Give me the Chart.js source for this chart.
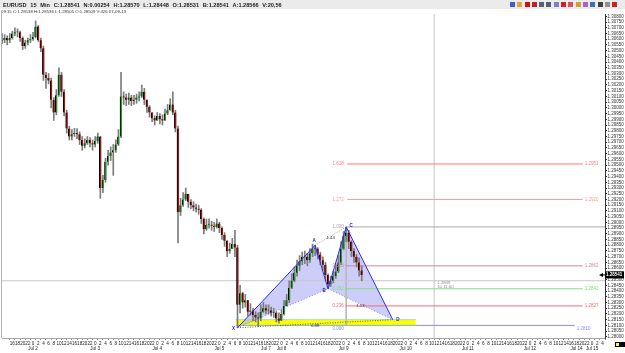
<!DOCTYPE html>
<html>
<head>
<meta charset="utf-8">
<title>EURUSD 15 Min</title>
<script src="https://cdn.jsdelivr.net/npm/chart.js@4.4.1/dist/chart.umd.min.js"></script>
<style>
  html, body { margin: 0; padding: 0; background: #fff; }
  #wrap { position: relative; width: 625px; height: 353px; overflow: hidden; font-family: 'Liberation Sans', Arial, sans-serif; }
  #chart { position: absolute; left: 0; top: 0; }
  #bar { position: absolute; left: 0; top: 0; width: 625px; height: 9px; background: #ebebeb; }
  #title { position: absolute; left: 3px; top: 1.5px; font-size: 5.6px; line-height: 6px; font-weight: bold; color: #222; white-space: nowrap; word-spacing: 2.2px; }
  #info { position: absolute; left: 1px; top: 9.2px; font-size: 4.3px; line-height: 5px; color: #333; white-space: nowrap; }
  #tools { position: absolute; left: 510px; top: 2px; height: 5px; display: flex; gap: 2.3px; }
  #tools span { display: block; width: 5px; height: 5px; }
  #frame { position: absolute; left: 1px; top: 10px; width: 1px; height: 328px; background: #b4b4b4; }
  .sq { position: absolute; top: 342px; width: 3px; height: 3px; border: 0.5px solid #000; }
</style>
</head>
<body>
<div id="wrap">
  <canvas id="chart" width="625" height="353"></canvas>
  <div id="bar"></div>
  <div id="title">EURUSD 15 Min C:1.28541 N:0.00254 H:1.28570 L:1.28448 O:1.28531 B:1.28541 A:1.28566 V:20,56</div>
  <div id="info">09:15 C:1.28538 H:1.28536 L:1.28505 O:1.28509 V:426 07-09-13</div>
  <div id="tools"></div>
  <div id="frame"></div>
  <div class="sq" style="left:615px;background:#ffff00"></div>
  <div class="sq" style="left:619.5px;background:#000"></div>
</div>
<script>
// --- Chart data ---
// Time axis is in trading hours, 0 = Jul 2 00:00 (weekend removed)
const firstHour = -12;
const firstOpen = 1.3058;

const closes = [
  1.3059, 1.3061, 1.3059, 1.3061, 1.3065, 1.3066, 1.3066, 1.3061, 1.3054, 1.3057,
  1.3059, 1.3060, 1.3062, 1.3071, 1.3059, 1.3052, 1.3029, 1.3026, 1.3024, 1.3007,
  1.2996, 1.3011, 1.3029, 1.3014, 1.2996, 1.2982, 1.2975, 1.2977, 1.2978, 1.2977,
  1.2972, 1.2967, 1.2969, 1.2972, 1.2969, 1.2968, 1.2971, 1.2975, 1.2930, 1.2937,
  1.2953, 1.2958, 1.2961, 1.2963, 1.2968, 1.2975, 1.3010, 1.3009, 1.3007, 1.3009,
  1.3006, 1.3007, 1.3009, 1.3010, 1.3014, 1.3007, 1.3001, 1.2996, 1.2991, 1.2989,
  1.2993, 1.2990, 1.2989, 1.2995, 1.2998, 1.3003, 1.2996, 1.2982, 1.2909, 1.2915,
  1.2920, 1.2925, 1.2918, 1.2915, 1.2913, 1.2912, 1.2911, 1.2903, 1.2894, 1.2898,
  1.2898, 1.2897, 1.2896, 1.2899, 1.2895, 1.2889, 1.2884, 1.2875, 1.2877, 1.2881,
  1.2878, 1.2828, 1.2838, 1.2830, 1.2832, 1.2822, 1.2823, 1.2819, 1.2817, 1.2816,
  1.2822, 1.2825, 1.2823, 1.2823, 1.2821, 1.2821, 1.2816, 1.2814, 1.2820, 1.2827,
  1.2832, 1.2843, 1.2849, 1.2856, 1.2862, 1.2866, 1.2870, 1.2870, 1.2867, 1.2873,
  1.2877, 1.2877, 1.2872, 1.2867, 1.2863, 1.2854, 1.2846, 1.2849, 1.2853, 1.2857,
  1.2865, 1.2877, 1.2888, 1.2891, 1.2883, 1.2875, 1.2870, 1.2865, 1.2858, 1.2854
];
const highs = [
  1.3065, 1.3064, 1.3063, 1.3065, 1.3067, 1.3070, 1.3069, 1.3067, 1.3062, 1.3059,
  1.3061, 1.3064, 1.3066, 1.3076, 1.3072, 1.3061, 1.3054, 1.3031, 1.3030, 1.3026,
  1.3009, 1.3016, 1.3035, 1.3031, 1.3016, 1.2998, 1.2984, 1.2981, 1.2982, 1.2982,
  1.2979, 1.2975, 1.2973, 1.2975, 1.2974, 1.2972, 1.2975, 1.2978, 1.2975, 1.2941,
  1.2956, 1.2963, 1.2966, 1.2968, 1.2972, 1.2981, 1.3031, 1.3014, 1.3012, 1.3013,
  1.3011, 1.3011, 1.3012, 1.3014, 1.3020, 1.3017, 1.3007, 1.3002, 1.2996, 1.2993,
  1.2996, 1.2995, 1.2994, 1.2999, 1.3003, 1.3008, 1.3014, 1.2998, 1.2984, 1.2921,
  1.2926, 1.2930, 1.2924, 1.2920, 1.2918, 1.2916, 1.2915, 1.2912, 1.2904, 1.2903,
  1.2903, 1.2901, 1.2900, 1.2903, 1.2900, 1.2896, 1.2891, 1.2884, 1.2882, 1.2886,
  1.2893, 1.2880, 1.2845, 1.2839, 1.2837, 1.2832, 1.2829, 1.2825, 1.2822, 1.2821,
  1.2828, 1.2830, 1.2828, 1.2828, 1.2826, 1.2825, 1.2822, 1.2821, 1.2824, 1.2832,
  1.2837, 1.2849, 1.2855, 1.2861, 1.2867, 1.2871, 1.2874, 1.2875, 1.2873, 1.2877,
  1.2881, 1.2880, 1.2878, 1.2874, 1.2870, 1.2865, 1.2855, 1.2853, 1.2857, 1.2863,
  1.2871, 1.2883, 1.2892, 1.2896, 1.2893, 1.2884, 1.2877, 1.2872, 1.2869, 1.2862
];
const lows = [
  1.3056, 1.3057, 1.3055, 1.3057, 1.3060, 1.3063, 1.3062, 1.3058, 1.3051, 1.3052,
  1.3055, 1.3057, 1.3059, 1.3061, 1.3058, 1.3049, 1.3024, 1.3017, 1.3021, 1.3000,
  1.2989, 1.2994, 1.3010, 1.3010, 1.2993, 1.2978, 1.2972, 1.2972, 1.2975, 1.2973,
  1.2968, 1.2963, 1.2965, 1.2968, 1.2966, 1.2963, 1.2966, 1.2969, 1.2921, 1.2926,
  1.2935, 1.2950, 1.2954, 1.2941, 1.2961, 1.2967, 1.2974, 1.3003, 1.3002, 1.3003,
  1.3002, 1.3003, 1.3004, 1.3006, 1.3009, 1.3003, 1.2996, 1.2992, 1.2988, 1.2985,
  1.2989, 1.2986, 1.2985, 1.2989, 1.2994, 1.2998, 1.2994, 1.2979, 1.2882, 1.2906,
  1.2914, 1.2919, 1.2913, 1.2912, 1.2910, 1.2909, 1.2907, 1.2899, 1.2890, 1.2893,
  1.2895, 1.2893, 1.2892, 1.2895, 1.2891, 1.2885, 1.2879, 1.2870, 1.2873, 1.2877,
  1.2870, 1.2808, 1.2821, 1.2825, 1.2826, 1.2818, 1.2819, 1.2814, 1.2813, 1.2809,
  1.2814, 1.2821, 1.2820, 1.2820, 1.2818, 1.2817, 1.2813, 1.2812, 1.2815, 1.2819,
  1.2827, 1.2830, 1.2842, 1.2848, 1.2853, 1.2858, 1.2863, 1.2864, 1.2862, 1.2865,
  1.2870, 1.2871, 1.2868, 1.2863, 1.2858, 1.2849, 1.2842, 1.2844, 1.2847, 1.2851,
  1.2856, 1.2863, 1.2876, 1.2883, 1.2877, 1.2870, 1.2865, 1.2861, 1.2853, 1.2849
];

// Time axis labels
const dayTicks = [0, 24, 48, 72, 90, 96, 120, 144, 168, 192, 210, 216];
const dayNames = ['Jul 2', 'Jul 3', 'Jul 4', 'Jul 5', 'Jul 7', 'Jul 8', 'Jul 9', 'Jul 10', 'Jul 11', 'Jul 12', 'Jul 14', 'Jul 15'];
const hourTickFirst = -8;
const hourTickLast = 220;

// Price axis
const priceMin = 1.2799;
const priceMax = 1.3082;
const priceTickFirst = 1.2800;
const priceTickLast = 1.3080;
const priceTickStep = 0.0005;

// Harmonic pattern X A B C D
const patternNames = ['X', 'A', 'B', 'C', 'D'];
const patternHours = [79, 109, 114, 121, 139];
const patternPrices = [1.2808, 1.2880, 1.2842, 1.2896, 1.2815];
const ratioNames = ['1.44', '1.13', '0.88'];

// Fibonacci levels
const fibNames = ['1.618', '1.272', '1.000', '0.618', '0.382', '0.236', '0.000'];
const fibPrices = [1.2951, 1.2920, 1.2896, 1.2862, 1.2842, 1.2827, 1.2810];

// Yellow zone, crosshair, last price
const zoneHours = [78.3, 147.9];
const zonePrices = [1.2810, 1.2815];
const crossHour = 155;
const crossPrice = 1.2849;
const crossTimeLabel = '10 11:00';
const lastPrice = 1.28541;

// --- Styles ---
const UP_COLOR = '#2c9a2c';
const DOWN_COLOR = '#9c1616';
const WICK_COLOR = '#7c7c7c';
const PATTERN_BLUE = '#2b2bef';
const FONT = '"Liberation Sans", Arial, sans-serif';
const LEFT_LABEL_HOUR = 120.4;

// per-level line colour and extent (hours)
const fibStyle = [
    { color: '#ff7878', from: 121.4, to: 212.4, right: true, drop: 0 },
    { color: '#ff9a9a', from: 121.4, to: 212.4, right: true, drop: 0 },
    { color: '#a8a8a8', from: 121.0, to: 221.0, right: false, drop: 0 },
    { color: '#c98ba0', from: 120.7, to: 212.4, right: true, drop: 0 },
    { color: '#7fe07f', from: 120.7, to: 212.4, right: true, drop: 0 },
    { color: '#ff6a6a', from: 120.7, to: 212.4, right: true, drop: 0 },
    { color: '#8a8aff', from: 79.0, to: 209.3, right: true, drop: 3 },
];
const pointLabelOffsets = [[-4, 1], [-1, -4], [-4, 2], [5, -1], [5, 0]];

const toolColors = ['#3a5fcd', '#e8a040', '#d01010', '#c02020', '#506080', '#506070', '#8080c0',
                    '#d02020', '#e05050', '#d0a030', '#b060c0', '#4070b0', '#404040', '#909090', '#d02020'];

/**
 * Small helper for a straight line dataset between points.
 */
const lineSet = (points, color, extra = {}) => ({
    type: 'line',
    data: points,
    borderColor: color,
    borderWidth: 1,
    pointRadius: 0,
    tension: 0,
    fill: false,
    order: 3,
    ...extra,
});

/**
 * Draws the text annotations: fib labels, pattern letters, ratios, crosshair and last price.
 */
const overlayPlugin = {
    id: 'overlay',
    afterDatasetsDraw(chart) {
        const { ctx, chartArea, scales: { x, y } } = chart;
        ctx.save();
        ctx.textBaseline = 'middle';
        ctx.font = `4.5px ${FONT}`;

        // Fibonacci level labels
        fibPrices.forEach((p, i) => {
            const s = fibStyle[i];
            const py = y.getPixelForValue(p) + s.drop;
            ctx.fillStyle = s.color;
            ctx.textAlign = 'right';
            ctx.fillText(fibNames[i], x.getPixelForValue(LEFT_LABEL_HOUR) - 1, py);
            if (s.right) {
                ctx.textAlign = 'left';
                ctx.fillText(p.toFixed(4), x.getPixelForValue(s.to) + 2, py);
            }
        });

        // Pattern point letters
        ctx.font = `bold 4.5px ${FONT}`;
        ctx.textAlign = 'center';
        ctx.fillStyle = '#1a1ad0';
        patternNames.forEach((name, i) => {
            const [dx, dy] = pointLabelOffsets[i];
            ctx.fillText(name, x.getPixelForValue(patternHours[i]) + dx, y.getPixelForValue(patternPrices[i]) + dy);
        });

        // Ratio labels at the middle of AC, BD and XD
        const pairs = [[1, 3], [2, 4], [0, 4]];
        ctx.font = `4.3px ${FONT}`;
        pairs.forEach(([a, b], i) => {
            const mx = x.getPixelForValue((patternHours[a] + patternHours[b]) / 2);
            const my = y.getPixelForValue((patternPrices[a] + patternPrices[b]) / 2);
            ctx.fillStyle = i === 2 ? '#1a1ad0' : '#333';
            ctx.fillText(ratioNames[i], mx, my + 2);
        });

        // Crosshair readout
        const cx = x.getPixelForValue(crossHour);
        const cy = y.getPixelForValue(crossPrice);
        ctx.textAlign = 'left';
        ctx.fillStyle = '#8c8c8c';
        ctx.fillText(crossPrice.toFixed(4), cx + 3, cy + 2.5);
        ctx.fillText(crossTimeLabel, cx + 3, cy + 6.5);

        // Last price marker on the price axis
        const ly = y.getPixelForValue(lastPrice);
        const rx = chartArea.right;
        ctx.fillStyle = '#000';
        ctx.fillRect(rx, ly - 3.5, 19, 7);
        ctx.beginPath();
        ctx.moveTo(rx - 6, ly);
        ctx.lineTo(rx - 2, ly - 2);
        ctx.lineTo(rx - 2, ly + 2);
        ctx.closePath();
        ctx.fill();
        ctx.fillRect(rx - 2, ly - 0.5, 2, 1);
        ctx.fillStyle = '#fff';
        ctx.font = `bold 4.5px ${FONT}`;
        ctx.fillText(lastPrice.toFixed(5), rx + 1, ly + 0.3);
        ctx.restore();
    },
};

document.addEventListener('DOMContentLoaded', () => {
    // --- Toolbar icons ---
    const tools = document.getElementById('tools');
    toolColors.forEach(c => {
        const s = document.createElement('span');
        s.style.background = c;
        tools.appendChild(s);
    });

    // --- Candles ---
    const candleHours = closes.map((_, i) => firstHour + i);
    const opens = closes.map((c, i) => (i === 0 ? firstOpen : closes[i - 1]));
    const wickData = candleHours.map((h, i) => ({ x: h, y: [lows[i], highs[i]] }));
    const bodyData = candleHours.map((h, i) => ({ x: h, y: [opens[i], closes[i]] }));
    const bodyColors = closes.map((c, i) => (c >= opens[i] ? UP_COLOR : DOWN_COLOR));

    // --- Axis ticks ---
    const hourTicks = [];
    for (let h = hourTickFirst; h <= hourTickLast; h += 2) hourTicks.push(h);
    const priceTicks = [];
    for (let p = priceTickFirst; p <= priceTickLast + 1e-9; p += priceTickStep) priceTicks.push(+p.toFixed(5));

    const pt = i => ({ x: patternHours[i], y: patternPrices[i] });
    const fillColor = 'rgba(172, 172, 245, 0.6)';

    const datasets = [
        // pattern triangles (upper edge fills to the dotted lower edge)
        lineSet([pt(0), pt(1), pt(2)], PATTERN_BLUE, { fill: '+1', backgroundColor: fillColor, order: 0 }),
        lineSet([pt(0), pt(2)], 'rgba(80,80,235,0.8)', { borderDash: [1, 2], borderWidth: 0.8, order: 0 }),
        lineSet([pt(2), pt(3), pt(4)], PATTERN_BLUE, { fill: '+1', backgroundColor: fillColor, order: 0 }),
        lineSet([pt(2), pt(4)], 'rgba(80,80,235,0.8)', { borderDash: [1, 2], borderWidth: 0.8, order: 0 }),
        lineSet([pt(1), pt(3)], '#8c8c8c', { borderDash: [1, 1.5], borderWidth: 0.8, order: 0 }),
        lineSet([pt(0), pt(4)], '#404040', { borderDash: [1, 1.5], borderWidth: 0.8, order: 0 }),
        // yellow zone
        lineSet([{ x: zoneHours[0], y: zonePrices[1] }, { x: zoneHours[1], y: zonePrices[1] }], '#8ad8a8',
            { fill: '+1', backgroundColor: '#ffff00', borderWidth: 0.8 }),
        lineSet([{ x: zoneHours[0], y: zonePrices[0] }, { x: zoneHours[1], y: zonePrices[0] }], '#8ad8a8', { borderWidth: 0.8 }),
        // candles
        {
            type: 'bar', data: bodyData, backgroundColor: bodyColors, borderColor: '#000',
            borderWidth: { left: 1, right: 0, top: 0, bottom: 0 }, borderSkipped: false,
            barThickness: 2, minBarLength: 0.8, grouped: false, order: 1,
        },
        { type: 'bar', data: wickData, backgroundColor: WICK_COLOR, barThickness: 1, grouped: false, order: 2 },
        // crosshair and C vertical
        lineSet([{ x: -12, y: crossPrice }, { x: 221, y: crossPrice }], '#c6c6c6', { order: 4 }),
        lineSet([{ x: crossHour, y: priceMin }, { x: crossHour, y: priceMax }], '#c6c6c6', { order: 4 }),
        lineSet([{ x: patternHours[3], y: patternPrices[3] }, { x: patternHours[3], y: fibPrices[6] }], '#b8b8b8', { order: 4 }),
    ];
    // Fibonacci level lines
    fibPrices.forEach((p, i) => {
        datasets.push(lineSet([{ x: fibStyle[i].from, y: p }, { x: fibStyle[i].to, y: p }], fibStyle[i].color));
    });

    new Chart(document.getElementById('chart'), {
        type: 'bar',
        data: { datasets },
        options: {
            responsive: false,
            animation: false,
            devicePixelRatio: 1,
            events: [],
            layout: { padding: { left: 2, top: 14, right: 0, bottom: 0 } },
            plugins: {
                legend: { display: false },
                tooltip: { enabled: false },
                filler: { drawTime: 'beforeDatasetsDraw' },
            },
            scales: {
                x: {
                    type: 'linear', min: -12, max: 221, offset: false,
                    grid: { drawOnChartArea: false, tickLength: 2, color: '#8c8c8c' },
                    border: { color: '#a8a8a8' },
                    afterBuildTicks: s => { s.ticks = hourTicks.map(v => ({ value: v })); },
                    afterFit: s => { s.height = 15; },
                    ticks: {
                        autoSkip: false, maxRotation: 0, minRotation: 0, padding: 0.5,
                        color: '#222', font: { family: FONT, size: 4.6, lineHeight: 1.25 },
                        callback: v => {
                            const hour = ((v % 24) + 24) % 24;
                            const d = dayTicks.indexOf(v);
                            return [String(hour), d >= 0 ? dayNames[d] : ''];
                        },
                    },
                },
                y: {
                    type: 'linear', position: 'right', min: priceMin, max: priceMax,
                    grid: { drawOnChartArea: false, tickLength: 2, color: '#333' },
                    border: { color: '#333' },
                    afterBuildTicks: s => { s.ticks = priceTicks.map(v => ({ value: v })); },
                    afterFit: s => { s.width = 20; },
                    ticks: {
                        autoSkip: false, padding: 0.5, color: '#333',
                        font: { family: FONT, size: 4.5 },
                        callback: v => v.toFixed(5),
                    },
                },
            },
        },
        plugins: [overlayPlugin],
    });
});
</script>
</body>
</html>
